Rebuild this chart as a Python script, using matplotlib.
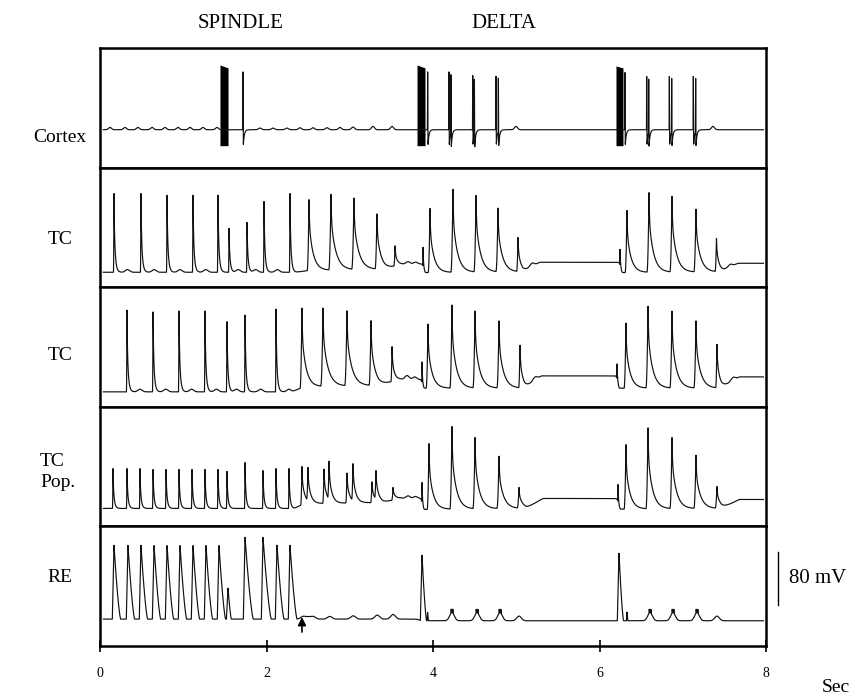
import numpy as np
import matplotlib
matplotlib.use("Agg")
import matplotlib.pyplot as plt

plt.rcParams['font.family'] = ['Liberation Serif', 'DejaVu Serif']

# ------------------------------------------------------------------ data
panel_labels = ['Cortex', 'TC', 'TC', 'TC\nPop.', 'RE']
phase_labels = ['SPINDLE', 'DELTA']
time_ticks = [0, 2, 4, 6, 8]
time_ticklabels = ['0', '2', '4', '6', '8']
scale_mv = 80

# Cortex (mV)
ctx_base_t = [0.0, 8.0]
ctx_base_v = [-63.0, -63.0]
ctx_burst_start = [1.441, 3.808, 6.198]
ctx_burst_end = [1.538, 3.904, 6.282]
ctx_burst_top_l = [34.5, 34.5, 33.0]
ctx_burst_top_r = [30.0, 30.0, 30.0]
ctx_burst_bottom = [-87.0, -87.0, -87.0]
ctx_spike_t = [1.718, 3.936, 4.192, 4.216, 4.477, 4.497, 4.757, 4.785,
               6.306, 6.567, 6.591, 6.839, 6.867, 7.127, 7.155]
ctx_spike_peak = [24, 24, 24, 24, 24, 24, 23, 23, 23, 22.5, 22.5, 22.5, 22.5, 22.5, 22.5]
ctx_spike_trough = -85.0
ctx_wig_t = [0.120, 0.300, 0.456, 0.625, 0.781, 0.937, 1.081, 1.237, 1.405,
             1.922, 2.078, 2.246, 2.402, 2.559, 2.727, 2.883, 3.039, 3.279, 3.508,
             4.997, 7.363]
ctx_wig_a = [3.5, 3.5, 3.5, 3.5, 3.5, 3.5, 3.5, 3.5, 3.5,
             2.5, 2.5, 2.5, 3, 3, 3, 3.5, 4, 5, 5,
             5, 5]

# TC cell 1
tc1_base_t = [0.0, 2.35, 2.5, 3.42, 3.62, 3.87, 3.905, 5.08, 5.28, 6.235, 6.27, 7.46, 7.66, 8.0]
tc1_base_v = [-97.5, -97.5, -95, -93, -86, -85, -98, -97, -82.5, -82.5, -98, -97, -84, -84]
tc1_ev_t = [0.168, 0.492, 0.805, 1.117, 1.417, 1.550, 1.766, 1.970, 2.282,
            2.511, 2.775, 3.051, 3.327, 3.544,
            3.880, 3.964, 4.240, 4.517, 4.781, 5.021,
            6.246, 6.330, 6.595, 6.871, 7.159, 7.405]
tc1_ev_peak = [21, 21, 21, 21, 21, -31.5, -22.5, 9, 21,
               13.5, 21, 15, -9, -58.5,
               -60, -1.5, 27, 19.5, 0, -45,
               -63, -4.5, 24, 18, -1.5, -46.5]
tc1_ev_w = [0.015] * 9 + [0.05, 0.06, 0.06, 0.05, 0.03] + \
           [0.006, 0.05, 0.055, 0.055, 0.055, 0.035] + \
           [0.006, 0.05, 0.055, 0.055, 0.055, 0.035]
tc1_bump_t = [0.33, 0.65, 0.96, 1.27, 1.66, 1.87, 2.13, 3.70, 3.79, 5.19, 7.57]
tc1_bump_a = [4, 4, 4, 4, 4, 4, 4, 4, 3, 5, 4]

# TC cell 2
tc2_base_t = [0.0, 2.30, 2.45, 3.35, 3.60, 3.855, 3.89, 5.10, 5.30, 6.20, 6.235, 7.46, 7.68, 8.0]
tc2_base_v = [-97.5, -97.5, -90, -88, -79, -79, -92, -92, -73.5, -73.5, -92, -92, -75, -75]
tc2_ev_t = [0.324, 0.637, 0.949, 1.261, 1.525, 1.742, 2.114,
            2.426, 2.679, 2.967, 3.255, 3.508,
            3.868, 3.940, 4.228, 4.505, 4.793, 5.045,
            6.210, 6.318, 6.583, 6.871, 7.159, 7.411]
tc2_ev_peak = [25.5, 25.5, 27, 27, 10.5, 18, 27,
               28.5, 30, 25.5, 10.5, -30,
               -52.5, 4.5, 33, 25.5, 10.5, -27,
               -55.5, 6, 33, 25.5, 10.5, -25.5]
tc2_ev_w = [0.015] * 7 + [0.05, 0.06, 0.06, 0.05, 0.03] + \
           [0.006, 0.05, 0.055, 0.055, 0.055, 0.035] + \
           [0.006, 0.05, 0.055, 0.055, 0.055, 0.035]
tc2_bump_t = [0.48, 0.79, 1.10, 1.40, 1.64, 1.93, 2.27, 3.688, 3.78, 5.225, 7.604]
tc2_bump_a = [4, 4, 4, 4, 4, 4, 4, 6, 4, 5, 5]

# TC population
pop_base_t = [0.0, 2.33, 2.45, 3.40, 3.60, 3.855, 3.89, 5.12, 5.32, 6.21, 6.245, 7.47, 7.68, 8.0]
pop_base_v = [-93, -93, -86, -84, -78, -78, -94.5, -93, -78, -78, -94, -93, -79.5, -79.5]
pop_ev_t = [0.156, 0.324, 0.480, 0.637, 0.793, 0.949, 1.105, 1.261, 1.417,
            1.525, 1.742, 1.958, 2.114, 2.270,
            2.426, 2.498, 2.691, 2.751, 2.967, 3.039, 3.267, 3.315, 3.520,
            3.868, 3.952, 4.228, 4.505, 4.793, 5.033,
            6.222, 6.318, 6.583, 6.871, 7.159, 7.411]
pop_ev_peak = [-33] * 9 + [-36, -24, -36, -33, -33] + \
              [-30, -36, -33, -27, -39, -28.5, -52.5, -40.5, -61.5] + \
              [-54, 4.5, 30, 15, -13.5, -61.5] + \
              [-57, 3, 30, 15, -12, -60]
pop_ev_w = [0.015] * 14 + [0.035] * 9 + \
           [0.006, 0.05, 0.055, 0.055, 0.055, 0.045] + \
           [0.006, 0.05, 0.055, 0.055, 0.055, 0.045]
pop_bump_t = [3.70, 3.79]
pop_bump_a = [4, 3]

# RE cell
re_base_t = [0.0, 3.80, 3.86, 8.0]
re_base_v = [-79.5, -79.5, -82, -82]
re_ev_t = [0.168, 0.336, 0.492, 0.649, 0.805, 0.961, 1.117, 1.273, 1.429,
           1.538, 1.742, 1.958, 2.126, 2.282,
           3.868, 3.935, 6.234, 6.330,
           4.218, 4.238, 4.519, 4.539, 4.795, 4.815,
           6.597, 6.617, 6.873, 6.893, 7.161, 7.181]
re_ev_peak = [31.5] * 9 + [-33, 43.5, 43.5, 31.5, 31.5] + \
             [16.5, -69, 19.5, -69] + [-64.5] * 12
re_ev_d = [0.08] * 9 + [0.04, 0.1, 0.1, 0.085, 0.085] + \
          [0.055, 0.012, 0.055, 0.012] + [0.008] * 12
re_bump_t = [2.44, 2.50, 2.56, 2.76, 3.04, 3.33, 3.52,
             4.228, 4.529, 4.805, 5.033, 6.607, 6.883, 7.171, 7.411]
re_bump_a = [4, 3, 4, 4, 5, 6, 7, 12, 12, 12, 7, 12, 12, 12, 7]

arrow_t = 2.426

# ------------------------------------------------------------------ model helpers
t = np.arange(0.04, 7.97, 0.0004)


def smooth(v, n=40):
    k = np.ones(n) / n
    pad = np.concatenate([np.full(n, v[0]), v, np.full(n, v[-1])])
    return np.convolve(pad, k, mode='same')[n:-n]


def bumps(bt, ba, sigma):
    out = np.zeros_like(t)
    for b, a in zip(bt, ba):
        out += a * np.exp(-0.5 * ((t - b) / sigma) ** 2)
    return out


def lts_kernel(dt, w):
    r = float(np.clip(0.45 * w, 0.004, 0.03))
    k = np.zeros_like(dt)
    m = (dt > -r) & (dt < 0)
    k[m] = ((dt[m] + r) / r) ** 2
    m2 = dt >= 0
    tipw = min(0.005, w)
    k[m2] = 0.35 * np.exp(-dt[m2] / tipw) + 0.65 * np.exp(-dt[m2] / w)
    return k


def re_kernel(dt, d):
    r = min(0.02, d / 2)
    k = np.zeros_like(dt)
    m = (dt > -r) & (dt < 0)
    k[m] = 1 + dt[m] / r
    m2 = (dt >= 0) & (dt < d)
    k[m2] = (1 - dt[m2] / d) ** 1.4
    return k


def build(base_t, base_v, ev_t, ev_peak, ev_w, bump_t, bump_a, sigma, kernel):
    bg = smooth(np.interp(t, base_t, base_v)) + bumps(bump_t, bump_a, sigma)
    v = bg.copy()
    for ti, pk, w in zip(ev_t, ev_peak, ev_w):
        i = int(np.argmin(np.abs(t - ti)))
        v += (pk - bg[i]) * kernel(t - ti, w)
    return v


def cortex_trace():
    bg = np.interp(t, ctx_base_t, ctx_base_v) + bumps(ctx_wig_t, ctx_wig_a, 0.018)
    v = bg.copy()
    for ti, pk in zip(ctx_spike_t, ctx_spike_peak):
        i = int(np.argmin(np.abs(t - ti)))
        A = pk - bg[i]
        U = bg[i] - ctx_spike_trough
        dt = t - ti
        k = np.zeros_like(t)
        m = (dt > -0.003) & (dt <= 0)
        k[m] = A * (1 + dt[m] / 0.003)
        m = (dt > 0) & (dt <= 0.004)
        k[m] = A + (-U - A) * dt[m] / 0.004
        m = dt > 0.004
        k[m] = -U * np.exp(-(dt[m] - 0.004) / 0.012)
        v += k
    return v


traces = [
    cortex_trace(),
    build(tc1_base_t, tc1_base_v, tc1_ev_t, tc1_ev_peak, tc1_ev_w,
          tc1_bump_t, tc1_bump_a, 0.025, lts_kernel),
    build(tc2_base_t, tc2_base_v, tc2_ev_t, tc2_ev_peak, tc2_ev_w,
          tc2_bump_t, tc2_bump_a, 0.025, lts_kernel),
    build(pop_base_t, pop_base_v, pop_ev_t, pop_ev_peak, pop_ev_w,
          pop_bump_t, pop_bump_a, 0.025, lts_kernel),
    build(re_base_t, re_base_v, re_ev_t, re_ev_peak, re_ev_d,
          re_bump_t, re_bump_a, 0.028, re_kernel),
]

# ------------------------------------------------------------------ figure
W, H = 852, 696
fig = plt.figure(figsize=(W / 100, H / 100), dpi=100)
left, right = 100 / W, 766 / W
top, bottom = 1 - 48 / H, 1 - 646 / H
ph = (top - bottom) / 5

axes = []
for i in range(5):
    ax = fig.add_axes([left, top - (i + 1) * ph, right - left, ph])
    ax.set_xlim(0, 8)
    ax.set_ylim(-120, 60)
    for s in ax.spines.values():
        s.set_linewidth(1.8)
    ax.set_yticks([])
    ax.set_xticks([])
    ax.plot(t, traces[i], color='#111111', lw=0.85)
    axes.append(ax)

# cortical bursts as solid blocks
ax0 = axes[0]
for s0, s1, tl, tr, b in zip(ctx_burst_start, ctx_burst_end, ctx_burst_top_l,
                             ctx_burst_top_r, ctx_burst_bottom):
    tt = np.linspace(s0, s1, 20)
    ax0.fill_between(tt, b, np.linspace(tl, tr, 20), color='black', lw=0)

# bottom time axis
axb = axes[-1]
axb.set_xticks(time_ticks)
axb.set_xticklabels(time_ticklabels)
axb.tick_params(axis='x', direction='inout', length=8, width=1.2, pad=11, labelsize=10)

# arrow under RE trace
axb.annotate('', xy=(arrow_t, -76.5), xytext=(arrow_t, -99),
             arrowprops=dict(arrowstyle='-|>', color='black', lw=1.2,
                             mutation_scale=12, shrinkA=0, shrinkB=0))

# scale bar
bar_x = (778 - 100) / 83.25
axb.plot([bar_x, bar_x], [-58.5, -58.5 + scale_mv], color='black', lw=1.0, clip_on=False)
axb.text((789 - 100) / 83.25, -58.5 + scale_mv / 2, f'{scale_mv} mV', fontsize=15,
         ha='left', va='center', clip_on=False)

# labels
fig.text(241 / W, 1 - 24 / H, phase_labels[0], fontsize=15, ha='center', va='center')
fig.text(504 / W, 1 - 24 / H, phase_labels[1], fontsize=15, ha='center', va='center')
label_y = [137, 239, 356, 472, 578]
for lab, y in zip(panel_labels, label_y):
    if '\n' in lab:
        fig.text(40 / W, 1 - y / H, lab, fontsize=14, ha='left', va='center',
                 linespacing=1.3)
    else:
        fig.text(60 / W, 1 - y / H, lab, fontsize=14, ha='center', va='center')
fig.text(836 / W, 1 - 687 / H, 'Sec', fontsize=14, ha='center', va='center')

fig.savefig('out.png', dpi=100)
